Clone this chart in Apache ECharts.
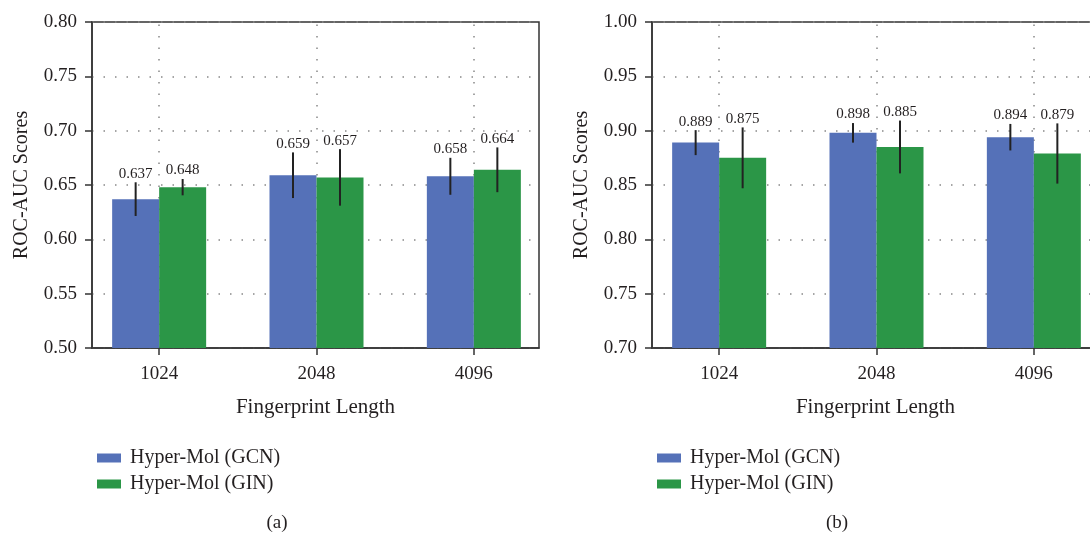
<!DOCTYPE html>
<html>
<head>
<meta charset="utf-8">
<script src="https://cdn.jsdelivr.net/npm/echarts@6/dist/echarts.min.js"></script>
<style>
  html, body { margin: 0; padding: 0; background: #fff; }
  #chart { width: 1090px; height: 533px; }
</style>
</head>
<body>
<div id="chart"></div>
<script>
// fingerprint lengths (x positions 1..3)
var categories = ['1024', '2048', '4096'];
var xPos = [1, 2, 3];
var seriesNames = ['Hyper-Mol (GCN)', 'Hyper-Mol (GIN)'];

// (a)
var gcnA = [0.637, 0.659, 0.658];
var gcnErrA = [0.0155, 0.021, 0.017];
var ginA = [0.648, 0.657, 0.664];
var ginErrA = [0.0075, 0.026, 0.0206];
var yTicksA = [0.50, 0.80];

// (b)
var gcnB = [0.889, 0.898, 0.894];
var gcnErrB = [0.0115, 0.009, 0.0122];
var ginB = [0.875, 0.885, 0.879];
var ginErrB = [0.028, 0.0243, 0.0277];
var yTicksB = [0.70, 1.00];

var BLUE = '#5571b8';
var GREEN = '#2b9647';
var BAR_W = 47;
var FONT = '"Liberation Serif", "Times New Roman", serif';
var TXT = '#231f20';
var DOTS = { color: '#888', width: 1.5, type: [1.5, 10] };

var chart = echarts.init(document.getElementById('chart'));

function xAxisCfg(idx) {
    return {
        type: 'value',
        gridIndex: idx,
        min: 1 - 67 / 157,
        max: 1 - 67 / 157 + 446 / 157,
        name: 'Fingerprint Length',
        nameLocation: 'middle',
        nameGap: 49,
        nameTextStyle: { fontFamily: FONT, fontSize: 21, color: TXT },
        axisLine: { lineStyle: { color: '#333', width: 1.5 } },
        axisTick: { show: true, customValues: xPos, length: 7, lineStyle: { color: '#333', width: 1.5 } },
        axisLabel: {
            customValues: xPos, margin: 17,
            fontFamily: FONT, fontSize: 19, color: TXT,
            formatter: function (v) { return categories[Math.round(v) - 1]; }
        },
        splitLine: { show: false }
    };
}

function yAxisCfg(idx, range) {
    return {
        type: 'value',
        gridIndex: idx,
        min: range[0],
        max: range[1],
        interval: 0.05,
        name: 'ROC-AUC Scores',
        nameLocation: 'middle',
        nameGap: 60,
        nameTextStyle: { fontFamily: FONT, fontSize: 20, color: TXT },
        axisLine: { show: true, lineStyle: { color: '#333', width: 1.5 } },
        axisTick: { show: true, length: 7, lineStyle: { color: '#333', width: 1.5 } },
        axisLabel: {
            margin: 15, fontFamily: FONT, fontSize: 19, color: TXT,
            formatter: function (v) { return v.toFixed(2); }
        },
        splitLine: { show: true, lineStyle: DOTS }
    };
}

function barSeries(name, vals, idx, color) {
    return {
        name: name,
        type: 'bar',
        xAxisIndex: idx,
        yAxisIndex: idx,
        barWidth: BAR_W,
        barGap: '0%',
        itemStyle: { color: color },
        data: xPos.map(function (x, i) { return [x, vals[i]]; }),
        z: 2
    };
}

function errSeries(name, vals, errs, idx, side, withGrid) {
    var s = {
        name: name,
        type: 'custom',
        xAxisIndex: idx,
        yAxisIndex: idx,
        z: 3,
        renderItem: function (params, api) {
            var x = api.value(0);
            var top = api.coord([x, api.value(2)]);
            var bot = api.coord([x, api.value(1)]);
            var dx = side * BAR_W / 2;
            return {
                type: 'group',
                children: [
                    { type: 'line',
                      shape: { x1: top[0] + dx, y1: top[1], x2: bot[0] + dx, y2: bot[1] },
                      style: { stroke: '#222', lineWidth: 2 } },
                    { type: 'text', x: top[0] + dx, y: top[1] - 1,
                      style: { text: api.value(3).toFixed(3), textAlign: 'center', textVerticalAlign: 'bottom',
                               font: '15px ' + FONT, fill: TXT } }
                ]
            };
        },
        encode: { x: 0, y: [1, 2] },
        data: xPos.map(function (x, i) { return [x, vals[i] - errs[i], vals[i] + errs[i], vals[i]]; })
    };
    if (withGrid) {
        // vertical dotted grid lines at the fingerprint lengths
        s.markLine = {
            silent: true, symbol: 'none', z: 1,
            label: { show: false },
            lineStyle: DOTS,
            data: xPos.map(function (x) { return { xAxis: x }; })
        };
    }
    return s;
}

function legendCfg(left) {
    return {
        data: seriesNames,
        orient: 'vertical',
        left: left,
        top: 443,
        itemWidth: 24,
        itemHeight: 9,
        itemGap: 6,
        icon: 'rect',
        textStyle: { fontFamily: FONT, fontSize: 20, color: TXT, padding: [0, 0, 0, 4] }
    };
}

function gridCfg(left) {
    return {
        left: left, top: 22, width: 447, height: 326,
        outerBoundsMode: 'none',
        show: true, borderColor: '#333', borderWidth: 1.5, backgroundColor: 'transparent'
    };
}

var option = {
    animation: false,
    backgroundColor: '#fff',
    title: [
        { text: '(a)', left: 272, top: 509, textAlign: 'center',
          textStyle: { fontFamily: FONT, fontSize: 19, fontWeight: 'normal', color: TXT } },
        { text: '(b)', left: 832, top: 509, textAlign: 'center',
          textStyle: { fontFamily: FONT, fontSize: 19, fontWeight: 'normal', color: TXT } }
    ],
    legend: [legendCfg(92), legendCfg(652)],
    grid: [gridCfg(92), gridCfg(652)],
    xAxis: [xAxisCfg(0), xAxisCfg(1)],
    yAxis: [yAxisCfg(0, yTicksA), yAxisCfg(1, yTicksB)],
    series: [
        barSeries(seriesNames[0], gcnA, 0, BLUE),
        barSeries(seriesNames[1], ginA, 0, GREEN),
        errSeries(seriesNames[0], gcnA, gcnErrA, 0, -1, true),
        errSeries(seriesNames[1], ginA, ginErrA, 0, 1, false),
        barSeries(seriesNames[0], gcnB, 1, BLUE),
        barSeries(seriesNames[1], ginB, 1, GREEN),
        errSeries(seriesNames[0], gcnB, gcnErrB, 1, -1, true),
        errSeries(seriesNames[1], ginB, ginErrB, 1, 1, false)
    ]
};

chart.setOption(option);
</script>
</body>
</html>
